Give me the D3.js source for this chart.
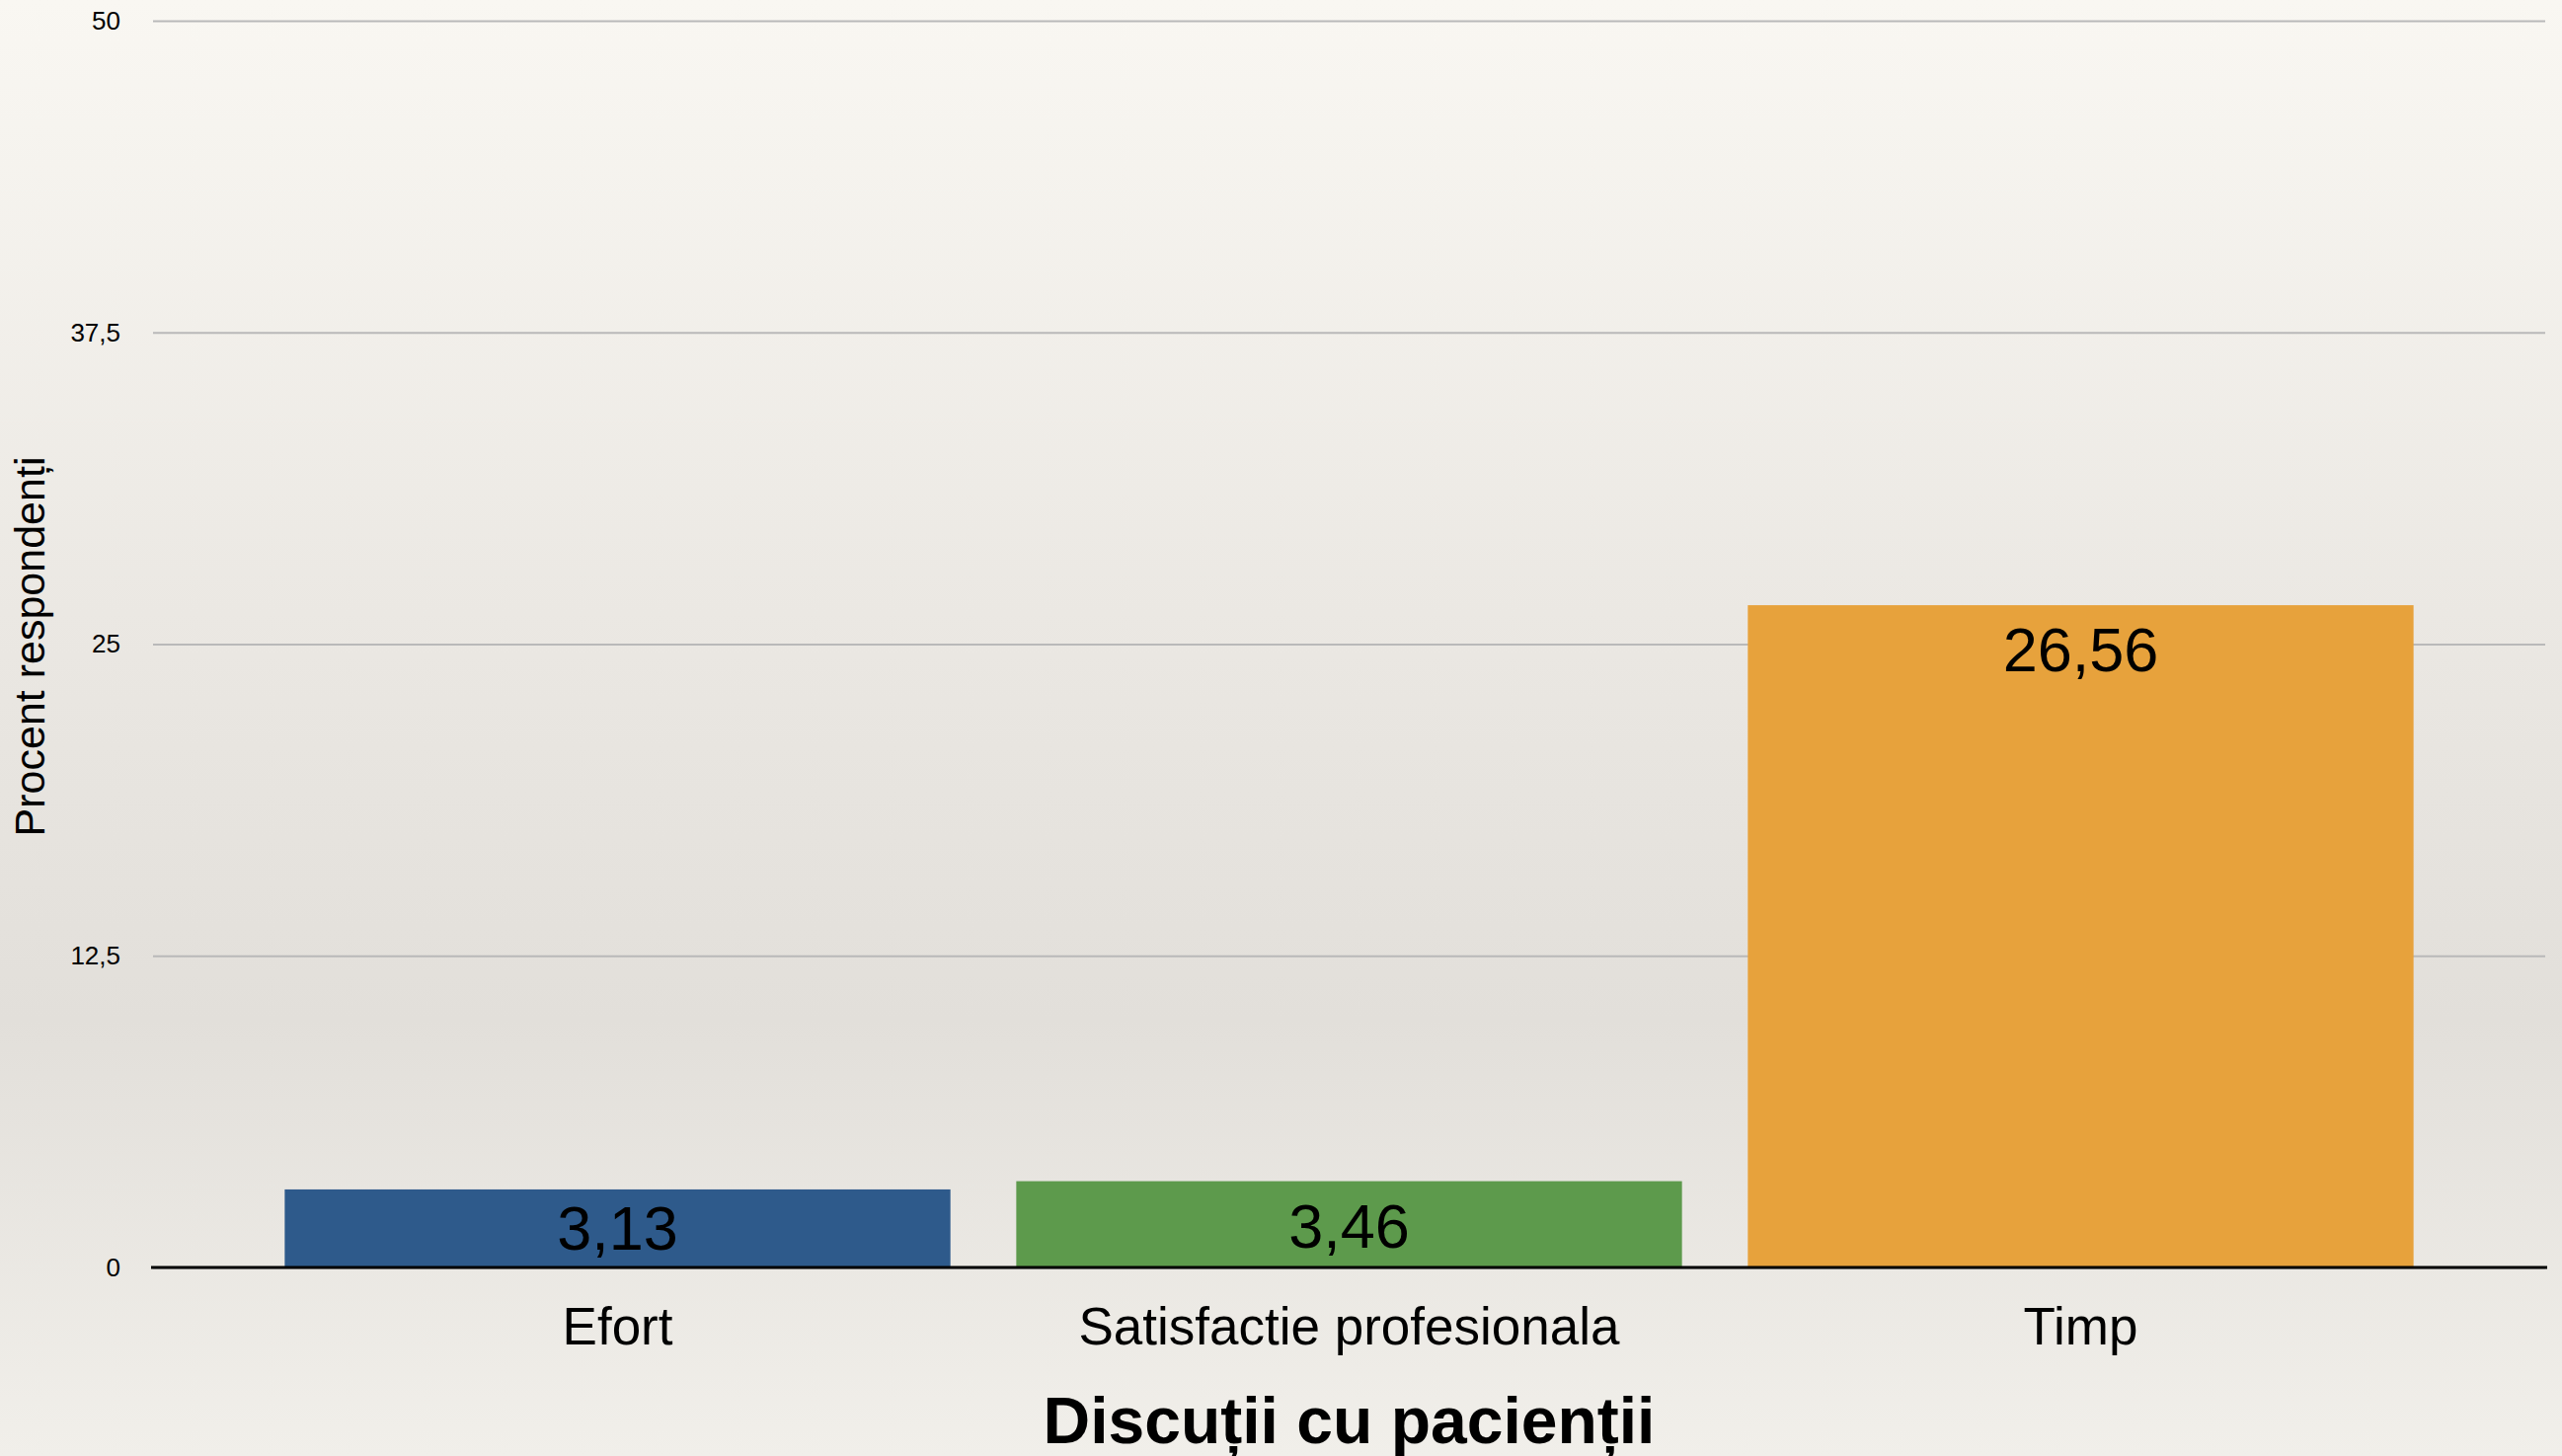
<!DOCTYPE html>
<html>
<head>
<meta charset="utf-8">
<script src="https://cdn.jsdelivr.net/npm/d3@7"></script>
<style>
    html, body { margin: 0; padding: 0; overflow: hidden; }
    body { width: 2595px; height: 1475px; }
    text { font-family: "Liberation Sans", Arial, Helvetica, sans-serif; fill: #000; }
</style>
</head>
<body>
<div id="chart"></div>
<script>
var categories = ["Efort", "Satisfactie profesionala", "Timp"];
var values = [3.13, 3.46, 26.56];
var valueLabels = ["3,13", "3,46", "26,56"];
var barColors = ["#2e5a8b", "#5d9a4c", "#e7a23c"];
var yTicks = [0, 12.5, 25, 37.5, 50];
var yTickLabels = ["0", "12,5", "25", "37,5", "50"];
var yTitle = "Procent respondenți";
var xTitle = "Discuții cu pacienții";

document.addEventListener('DOMContentLoaded', main);

function main() {
    var width = 2595;
    var height = 1475;

    var svg = d3.select("#chart")
        .append("svg")
            .attr("width", width)
            .attr("height", height);

    // paper-ish background, lighter at top, darker through the middle
    var grad = svg.append("defs").append("linearGradient")
        .attr("id", "bg")
        .attr("x1", 0).attr("y1", 0)
        .attr("x2", 0).attr("y2", 1);
    grad.append("stop").attr("offset", "0%").attr("stop-color", "#f9f7f2");
    grad.append("stop").attr("offset", "45%").attr("stop-color", "#eae7e2");
    grad.append("stop").attr("offset", "70%").attr("stop-color", "#e2dfda");
    grad.append("stop").attr("offset", "100%").attr("stop-color", "#f1efea");

    svg.append("rect")
        .attr("width", width)
        .attr("height", height)
        .attr("fill", "url(#bg)");

    var x = d3.scaleBand()
        .domain(categories)
        .range([155, 2578])
        .paddingInner(0.09)
        .paddingOuter(0.18);

    var y = d3.scaleLinear()
        .domain([0, 50])
        .range([1284, 21]);

    // gridlines
    var yAxis = d3.axisLeft(y)
        .tickValues(yTicks)
        .tickSize(-(2578 - 155))
        .tickPadding(33)
        .tickFormat(function (d, i) {
            return yTickLabels[i];
        });

    var gy = svg.append("g")
        .attr("transform", "translate(155,0)")
        .call(yAxis);

    gy.select(".domain").remove();
    gy.selectAll(".tick line")
        .attr("stroke", "#b9b9b9")
        .attr("stroke-width", 2);
    gy.selectAll(".tick text")
        .attr("font-size", 26)
        .attr("font-family", "Liberation Sans, Arial, sans-serif")
        .attr("fill", "#000");

    // bars
    svg.selectAll(".bar")
        .data(values)
        .enter().append("rect")
        .attr("class", "bar")
        .attr("x", function (d, i) {
            return x(categories[i]);
        })
        .attr("y", function (d) {
            return y(d);
        })
        .attr("width", x.bandwidth())
        .attr("height", function (d) {
            return y(0) - y(d);
        })
        .attr("fill", function (d, i) {
            return barColors[i];
        });

    // value labels inside the bars
    svg.selectAll(".val")
        .data(values)
        .enter().append("text")
        .attr("class", "val")
        .attr("x", function (d, i) {
            return x(categories[i]) + x.bandwidth() / 2;
        })
        .attr("y", function (d) {
            return Math.min(y(d) + 67, y(0) - 18);
        })
        .attr("text-anchor", "middle")
        .attr("font-size", 63)
        .text(function (d, i) {
            return valueLabels[i];
        });

    // zero line
    svg.append("line")
        .attr("x1", 153)
        .attr("x2", 2580)
        .attr("y1", y(0))
        .attr("y2", y(0))
        .attr("stroke", "#000")
        .attr("stroke-width", 3);

    // category labels
    var xAxis = d3.axisBottom(x)
        .tickSize(0)
        .tickPadding(0);

    var gx = svg.append("g")
        .attr("transform", "translate(0,1362)")
        .call(xAxis);

    gx.select(".domain").remove();
    gx.selectAll(".tick text")
        .attr("dy", 0)
        .attr("font-size", 53)
        .attr("font-family", "Liberation Sans, Arial, sans-serif")
        .attr("fill", "#000");

    // axis titles
    svg.append("text")
        .attr("x", (155 + 2578) / 2)
        .attr("y", 1462)
        .attr("text-anchor", "middle")
        .attr("font-size", 66)
        .attr("font-weight", "bold")
        .text(xTitle);

    svg.append("text")
        .attr("transform", "translate(45,655) rotate(-90)")
        .attr("text-anchor", "middle")
        .attr("font-size", 43)
        .text(yTitle);
}
</script>
</body>
</html>
